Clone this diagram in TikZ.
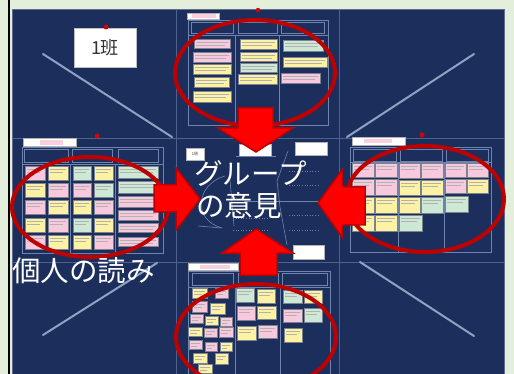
\documentclass[tikz,border=0pt]{standalone}
\usepackage{fontspec}
\newfontfamily\cjk{Noto Sans CJK JP}
\definecolor{bgc}{HTML}{E3EEDB}
\definecolor{navy}{HTML}{1C2F5C}
\definecolor{gridc}{HTML}{4D628F}
\definecolor{diagc}{HTML}{8EA2C2}
\definecolor{boardc}{HTML}{6F84AD}
\definecolor{npink}{HTML}{F8C8DC}
\definecolor{nyel}{HTML}{FDF2A4}
\definecolor{ngrn}{HTML}{CDE8D4}
\definecolor{nbd}{HTML}{7D8290}
\definecolor{ringred}{HTML}{BE0000}
\definecolor{arrred}{HTML}{FF0000}
\definecolor{arrdark}{HTML}{C00000}
\definecolor{tpink}{HTML}{FAD0E0}
\tikzset{
  cellline/.style={draw=gridc, line width=0.9pt},
  diag/.style={draw=diagc, line width=2pt, line cap=round},
  board/.style={draw=boardc, line width=0.6pt},
  scrib/.style={path picture={
      \draw[black!30, line width=0.6pt]
        ([xshift=2pt,yshift=-3.2pt]path picture bounding box.north west) --
        ([xshift=-2pt,yshift=-3.2pt]path picture bounding box.north east)
        ([xshift=2pt,yshift=-6pt]path picture bounding box.north west) --
        ([xshift=-5pt,yshift=-6pt]path picture bounding box.north east);}},
  P/.style={fill=npink, draw=nbd, line width=0.35pt, scrib},
  Y/.style={fill=nyel, draw=nbd, line width=0.35pt, scrib},
  G/.style={fill=ngrn, draw=nbd, line width=0.35pt, scrib},
  ring/.style={draw=ringred, line width=4pt},
  bigarrow/.style={fill=arrred, draw=arrdark, line width=1.5pt, line join=miter},
  bigtext/.style={text=white, font=\cjk\fontsize{28.5}{31}\selectfont, anchor=west, inner sep=0pt},
  faint/.style={draw=boardc, line width=0.6pt},
  dots/.style={draw=boardc, line width=0.6pt, dotted},
  pin/.style={fill=red!85!black},
  wbox/.style={fill=white, draw=gray!60, line width=0.3pt}
}
\newcommand\stk[5]{\draw[#1] (#2,#3) rectangle (#4,#5);}
\newcommand\titlebar[6]{\draw[wbox] (#1,#2) rectangle (#3,#4); \fill[tpink] (#5,#2+1.5) rectangle (#6,#4-1.5);}
\begin{document}
\begin{tikzpicture}[x=1pt,y=-1pt]
\path[use as bounding box, clip] (0,0) rectangle (514,374);
\fill[bgc] (0,0) rectangle (514,374);
\fill[black] (8.3,0) rectangle (10,374);
\draw[navy!70!white, fill=navy, line width=0.8pt] (12,9) rectangle (504,380);
% grid
\draw[cellline] (176,9) -- (176,374);
\draw[cellline] (339,9) -- (339,374);
\draw[cellline] (12,138) -- (504,138);
\draw[cellline] (12,262) -- (504,262);
% diagonals
\draw[diag] (43,54) -- (172,137);
\draw[diag] (474,54) -- (347,137);
\draw[diag] (157,263) -- (43,335);
\draw[diag] (360,262) -- (474,336);
% 1 班 label
\node[fill=white, draw=gray!50, minimum width=62pt, minimum height=39pt, text=black!80, font=\cjk\fontsize{18}{20}\selectfont] (han) at (105,48) {1班};
\fill[pin] (106,27) circle (2.5pt);
\fill[pin] (258,10) circle (2.2pt);
\fill[pin] (97,136) circle (2.5pt);
\fill[pin] (422,135) circle (2.5pt);

% ===== top board =====
\titlebar{187}{13}{219}{19.5}{192}{216}
\draw[board] (188,20) rectangle (328,125);
\draw[board] (191,22) rectangle (233,33);
\draw[board] (238,22) rectangle (277,33);
\draw[board] (281,22) rectangle (324,33);
\draw[board] (188,35) -- (328,35);
\draw[board] (235,35) -- (235,125);
\draw[board] (279,35) -- (279,125);
\stk{P}{194}{39}{230}{48}
\stk{P}{193}{52}{231}{62}
\stk{Y}{193}{64}{231}{74}
\stk{Y}{194}{77}{229}{87}
\stk{Y}{193}{91}{231}{102}
\stk{Y}{240}{39}{277}{49}
\stk{Y}{240}{52}{277}{61}
\stk{G}{240}{63}{277}{72}
\stk{Y}{238}{74}{277}{84}
\stk{G}{283}{40}{323}{51}
\stk{Y}{283}{57}{327}{67}
\stk{P}{281}{73}{320}{83}

% ===== left board =====
\titlebar{23}{138.5}{76}{146.5}{40}{63}
\draw[board] (22,147.5) rectangle (163,253);
\draw[board] (24,149) rectangle (68,162);
\draw[board] (72,149) rectangle (112,162);
\draw[board] (118,149) rectangle (158,162);
\draw[board] (22,164) -- (163,164);
\draw[board] (70,164) -- (70,253);
\draw[board] (115,164) -- (115,253);
\stk{P}{25}{166}{45}{180}\stk{Y}{48}{166}{68}{180}\stk{G}{73}{166}{91}{180}\stk{Y}{94}{166}{113}{180}
\stk{Y}{25}{183}{45}{197}\stk{P}{48}{183}{68}{197}\stk{P}{73}{183}{91}{197}\stk{G}{94}{183}{113}{197}
\stk{P}{25}{200}{45}{214}\stk{Y}{48}{200}{68}{214}\stk{Y}{73}{200}{91}{214}\stk{P}{94}{200}{113}{214}
\stk{Y}{25}{218}{45}{232}\stk{P}{48}{218}{68}{232}\stk{G}{73}{218}{91}{232}\stk{Y}{94}{218}{113}{232}
\stk{P}{25}{235}{45}{249}\stk{Y}{48}{235}{68}{249}\stk{Y}{73}{235}{91}{249}\stk{P}{94}{235}{113}{249}
\stk{G}{118}{166}{158}{178}
\stk{G}{118}{181}{158}{193}
\stk{P}{118}{196}{158}{207}
\stk{P}{118}{210}{158}{220}
\stk{P}{118}{223}{158}{232}
\stk{P}{118}{237}{158}{246}

% ===== right board =====
\titlebar{352}{137.5}{405}{145}{364}{392}
\draw[board] (350,147) rectangle (491,252);
\draw[board] (353,149) rectangle (396,161);
\draw[board] (400,149) rectangle (442,161);
\draw[board] (446,149) rectangle (488,161);
\draw[board] (350,162) -- (491,162);
\draw[board] (398,162) -- (398,252);
\draw[board] (444,162) -- (444,252);
\stk{P}{352}{163}{374}{177}\stk{P}{375}{163}{397}{177}
\stk{P}{352}{179}{374}{195}\stk{P}{375}{179}{397}{195}
\stk{Y}{352}{197}{374}{213}\stk{Y}{375}{197}{397}{213}
\stk{Y}{352}{215}{374}{231}\stk{Y}{375}{215}{397}{231}
\stk{P}{399}{163}{420}{178}\stk{P}{421}{163}{443}{178}
\stk{Y}{399}{180}{420}{195}\stk{Y}{421}{180}{443}{195}
\stk{Y}{399}{197}{420}{213}\stk{G}{421}{197}{443}{213}
\stk{G}{399}{215}{422}{231}
\stk{P}{445}{163}{466}{177}\stk{P}{467}{163}{488}{177}
\stk{P}{445}{179}{466}{193}\stk{Y}{467}{179}{488}{193}
\stk{G}{445}{196}{468}{212}

% ===== bottom board =====
\titlebar{188}{263}{238}{270}{200}{230}
\draw[board] (188,271) rectangle (330,380);
\draw[board] (192,273) rectangle (233,285);
\draw[board] (238,273) rectangle (278,285);
\draw[board] (282,273) rectangle (327,285);
\draw[board] (188,287) -- (330,287);
\draw[board] (235,287) -- (235,380);
\draw[board] (280,287) -- (280,380);
\stk{Y}{192}{288}{207}{298}\stk{P}{215}{288}{228}{298}
\stk{P}{192}{301}{207}{312}\stk{Y}{210}{303}{225}{314}
\stk{P}{190}{314}{203}{323}\stk{Y}{205}{316}{218}{325}\stk{P}{220}{317}{232}{326}
\stk{Y}{188}{327}{202}{336}\stk{P}{204}{328}{217}{337}\stk{P}{219}{327}{233}{337}
\stk{P}{189}{340}{202}{349}\stk{P}{205}{342}{217}{351}\stk{Y}{220}{342}{232}{351}
\stk{Y}{193}{353}{207}{363}\stk{Y}{215}{353}{228}{364}
\stk{Y}{198}{364}{212}{373}
\stk{G}{236}{288}{254}{302}\stk{Y}{257}{289}{275}{303}
\stk{P}{237}{306}{255}{320}\stk{Y}{257}{306}{276}{319}
\stk{Y}{237}{326}{256}{340}\stk{P}{258}{325}{277}{338}
\stk{G}{283}{290}{302}{303}\stk{Y}{304}{290}{322}{303}
\stk{P}{283}{309}{302}{322}\stk{G}{304}{308}{322}{322}
\stk{Y}{284}{328}{302}{342}

% ===== centre sheet =====
\draw[wbox] (186,148) rectangle (204,160);
\node[text=black!80, font=\cjk\fontsize{4}{5}\selectfont, inner sep=0pt] (hansmall) at (195,154) {1班};
\draw[wbox] (239,144) rectangle (271,156);
\draw[wbox] (295,142) rectangle (327,155);
\draw[wbox] (293,245) rectangle (324,259);
\draw[faint] (225,176) .. controls (196,184) and (192,220) .. (222,228);
\draw[faint] (230,180) -- (234,226);
\draw[faint] (236,156) -- (276,156);
\draw[faint] (288,151) -- (277,181) -- (280,207) -- (287,245);
\draw[faint] (244,201) -- (319,201);
\draw[faint] (198,226) -- (222,228);
\draw[dots] (289,171) -- (319,171);
\draw[dots] (289,185) -- (319,185);
\draw[dots] (289,215) -- (319,215);
\draw[dots] (289,230) -- (319,230);
\draw[dots] (233,218) -- (268,218);
\draw[dots] (233,230) -- (268,230);

% ===== red rings =====
\draw[ring] (255,73) ellipse [x radius=80pt, y radius=53pt];
\draw[ring] (90,207) ellipse [x radius=78pt, y radius=50pt];
\draw[ring] (425,199) ellipse [x radius=79pt, y radius=53pt];
\draw[ring] (256,337) ellipse [x radius=80pt, y radius=53pt];

% ===== arrows =====
\draw[bigarrow] (238,108) -- (273,108) -- (273,128) -- (293,128) -- (256,152) -- (218,128) -- (238,128) -- cycle;
\draw[bigarrow] (240,275) -- (277,275) -- (277,253) -- (293,253) -- (256,229) -- (222,253) -- (240,253) -- cycle;
\draw[bigarrow] (154,185) -- (176,185) -- (176,168) -- (200,199) -- (176,230) -- (176,212) -- (154,212) -- cycle;
\draw[bigarrow] (365,187) -- (342,187) -- (342,170) -- (318,203) -- (342,237) -- (342,225) -- (365,225) -- cycle;

% ===== big texts =====
\node[bigtext] (grp1) at (194,174) {グループ};
\node[bigtext] (grp2) at (196,206) {の意見};
\node[bigtext] (indiv) at (12,271) {個人の読み};
\end{tikzpicture}
\end{document}
